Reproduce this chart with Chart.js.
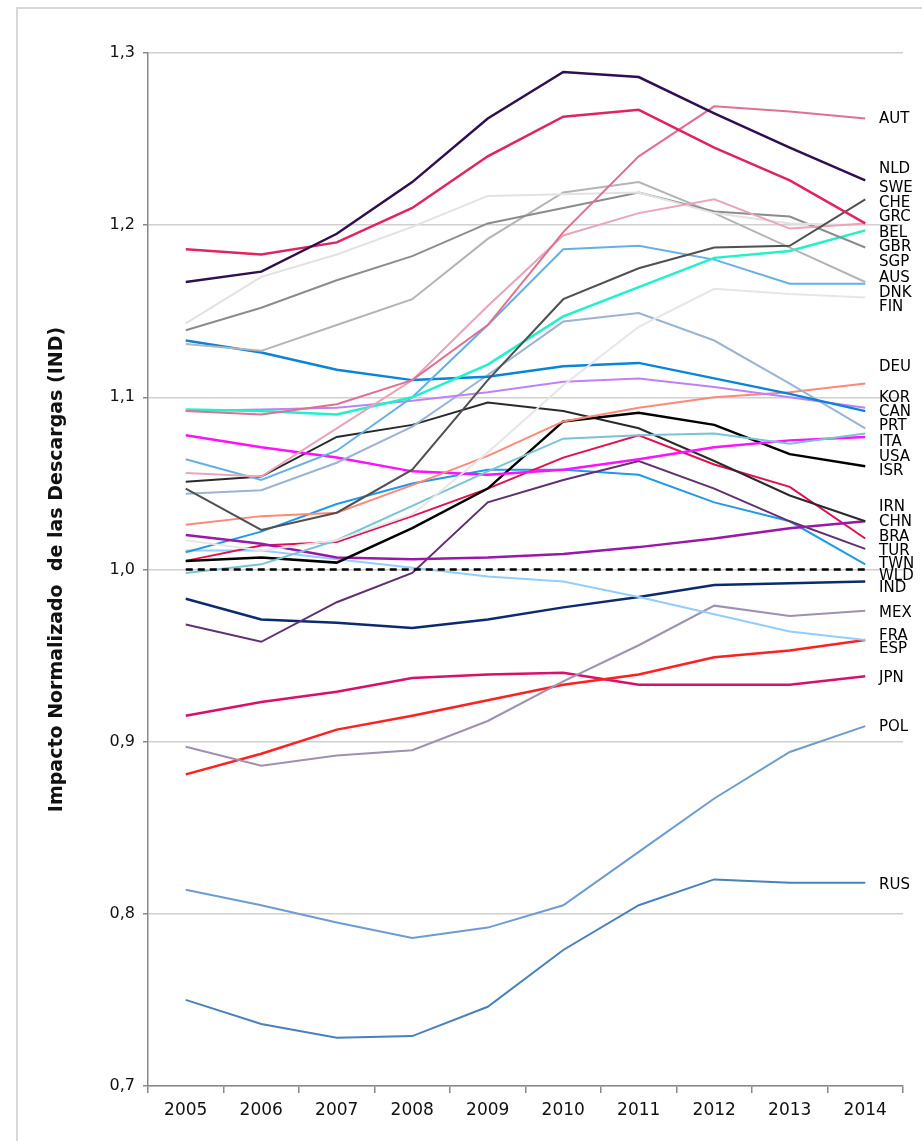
<!DOCTYPE html>
<html>
<head>
<meta charset="utf-8">
<script src="https://cdn.jsdelivr.net/npm/chart.js@4.4.1/dist/chart.umd.min.js"></script>
<style>
  html, body { margin: 0; padding: 0; background: #fff; }
  canvas { display: block; }
</style>
</head>
<body>
<canvas id="ind" width="922" height="1141"></canvas>
<script>
// years on the x axis
const years = ['2005', '2006', '2007', '2008', '2009', '2010', '2011', '2012', '2013', '2014'];

// y axis ticks
const yTicks = [0.7, 0.8, 0.9, 1.0, 1.1, 1.2, 1.3];

// one array per country
const NLD = [1.167, 1.173, 1.195, 1.225, 1.262, 1.289, 1.286, 1.265, 1.245, 1.226];
const BEL = [1.186, 1.183, 1.190, 1.210, 1.240, 1.263, 1.267, 1.245, 1.226, 1.201];
const SWE = [1.143, 1.170, 1.183, 1.199, 1.217, 1.218, 1.219, 1.207, 1.201, 1.200];
const GBR = [1.139, 1.152, 1.168, 1.182, 1.201, 1.210, 1.219, 1.208, 1.205, 1.187];
const AUS = [1.131, 1.127, 1.142, 1.157, 1.192, 1.219, 1.225, 1.207, 1.187, 1.167];
const DEU = [1.133, 1.126, 1.116, 1.110, 1.112, 1.118, 1.120, 1.111, 1.102, 1.092];
const SGP = [1.093, 1.092, 1.090, 1.100, 1.119, 1.147, 1.164, 1.181, 1.185, 1.197];
const CAN = [1.092, 1.093, 1.094, 1.098, 1.103, 1.109, 1.111, 1.106, 1.100, 1.094];
const AUT = [1.092, 1.090, 1.096, 1.110, 1.142, 1.196, 1.240, 1.269, 1.266, 1.262];
const GRC = [1.056, 1.054, 1.082, 1.110, 1.153, 1.194, 1.207, 1.215, 1.198, 1.201];
const DNK = [1.064, 1.052, 1.069, 1.100, 1.142, 1.186, 1.188, 1.180, 1.166, 1.166];
const PRT = [1.044, 1.046, 1.062, 1.083, 1.113, 1.144, 1.149, 1.133, 1.108, 1.082];
const CHE = [1.047, 1.023, 1.033, 1.058, 1.110, 1.157, 1.175, 1.187, 1.188, 1.215];
const IRN = [1.051, 1.054, 1.077, 1.084, 1.097, 1.092, 1.082, 1.063, 1.043, 1.028];
const ISR = [1.005, 1.007, 1.004, 1.024, 1.047, 1.086, 1.091, 1.084, 1.067, 1.060];
const USA = [1.078, 1.071, 1.065, 1.057, 1.055, 1.058, 1.064, 1.071, 1.075, 1.077];
const KOR = [1.026, 1.031, 1.033, 1.049, 1.066, 1.086, 1.094, 1.100, 1.103, 1.108];
const ITA = [0.998, 1.003, 1.017, 1.037, 1.057, 1.076, 1.078, 1.079, 1.073, 1.079];
const FIN = [1.017, 1.011, 1.017, 1.032, 1.068, 1.107, 1.141, 1.163, 1.160, 1.158];
const TWN = [1.010, 1.022, 1.038, 1.050, 1.058, 1.058, 1.055, 1.039, 1.028, 1.003];
const BRA = [1.005, 1.014, 1.016, 1.031, 1.047, 1.065, 1.078, 1.061, 1.048, 1.018];
const TUR = [0.968, 0.958, 0.981, 0.998, 1.039, 1.052, 1.063, 1.047, 1.028, 1.012];
const CHN = [1.020, 1.015, 1.007, 1.006, 1.007, 1.009, 1.013, 1.018, 1.024, 1.028];
const FRA = [1.011, 1.011, 1.006, 1.001, 0.996, 0.993, 0.984, 0.974, 0.964, 0.959];
const WLD = [1.000, 1.000, 1.000, 1.000, 1.000, 1.000, 1.000, 1.000, 1.000, 1.000];
const IND = [0.983, 0.971, 0.969, 0.966, 0.971, 0.978, 0.984, 0.991, 0.992, 0.993];
const MEX = [0.897, 0.886, 0.892, 0.895, 0.912, 0.935, 0.956, 0.979, 0.973, 0.976];
const ESP = [0.881, 0.893, 0.907, 0.915, 0.924, 0.933, 0.939, 0.949, 0.953, 0.959];
const JPN = [0.915, 0.923, 0.929, 0.937, 0.939, 0.940, 0.933, 0.933, 0.933, 0.938];
const POL = [0.814, 0.805, 0.795, 0.786, 0.792, 0.805, 0.836, 0.867, 0.894, 0.909];
const RUS = [0.750, 0.736, 0.728, 0.729, 0.746, 0.779, 0.805, 0.820, 0.818, 0.818];

// names at the right edge and the value each one sits at
const labelNames = ['AUT', 'NLD', 'SWE', 'CHE', 'GRC', 'BEL', 'GBR', 'SGP', 'AUS', 'DNK', 'FIN',
  'DEU', 'KOR', 'CAN', 'PRT', 'ITA', 'USA', 'ISR', 'IRN', 'CHN', 'BRA', 'TUR', 'TWN', 'WLD',
  'IND', 'MEX', 'FRA', 'ESP', 'JPN', 'POL', 'RUS'];
const labelValues = [1.262, 1.233, 1.222, 1.2135, 1.205, 1.196, 1.188, 1.179, 1.170, 1.161, 1.153,
  1.118, 1.100, 1.092, 1.084, 1.0747, 1.066, 1.058, 1.037, 1.028, 1.0195, 1.011, 1.004, 0.997,
  0.990, 0.975, 0.962, 0.9545, 0.9376, 0.909, 0.817];

function line(label, data, color, width, dash) {
  return {
    label: label,
    data: data,
    borderColor: color,
    backgroundColor: color,
    borderWidth: width,
    borderDash: dash || [],
    pointRadius: 0,
    fill: false,
    tension: 0
  };
}

// the name labels at the right, placed through the y scale
const sideLabels = {
  id: 'sideLabels',
  afterDatasetsDraw(chart) {
    const c = chart.ctx;
    const y = chart.scales.y;
    c.save();
    c.font = '15px "DejaVu Sans"';
    c.fillStyle = '#000';
    c.textAlign = 'left';
    c.textBaseline = 'middle';
    labelNames.forEach((n, i) => {
      c.fillText(n, chart.chartArea.right - 24, y.getPixelForValue(labelValues[i]) + 1);
    });
    c.restore();
  }
};

// thin grey frame round the picture, top and left
const frame = {
  id: 'frame',
  beforeDraw(chart) {
    const c = chart.ctx;
    c.save();
    c.fillStyle = '#fff';
    c.fillRect(0, 0, chart.width, chart.height);
    c.strokeStyle = '#d8d8d8';
    c.lineWidth = 2;
    c.beginPath();
    c.moveTo(17, chart.height);
    c.lineTo(17, 8);
    c.lineTo(chart.width, 8);
    c.stroke();
    c.restore();
  }
};

new Chart(document.getElementById('ind').getContext('2d'), {
  type: 'line',
  data: {
    labels: years,
    datasets: [
      line('WLD', WLD, '#000000', 2.5, [7, 5]),
      line('NLD', NLD, '#2e0f4f', 2.5),
      line('BEL', BEL, '#e0245e', 2.5),
      line('AUT', AUT, '#e07090', 2),
      line('CHE', CHE, '#505050', 2),
      line('GRC', GRC, '#eaa4b8', 2),
      line('SWE', SWE, '#e2e2e2', 2),
      line('GBR', GBR, '#8c8c8c', 2),
      line('AUS', AUS, '#b4b4b4', 2),
      line('SGP', SGP, '#1ef2c8', 2.5),
      line('DNK', DNK, '#64b0e6', 2),
      line('FIN', FIN, '#e6e6e6', 2),
      line('DEU', DEU, '#0a84d8', 2.5),
      line('CAN', CAN, '#c080f8', 2),
      line('PRT', PRT, '#9ab4d2', 2),
      line('KOR', KOR, '#ff8878', 2),
      line('ITA', ITA, '#78c4d6', 2),
      line('USA', USA, '#ff10ff', 2.5),
      line('ISR', ISR, '#000000', 2.5),
      line('IRN', IRN, '#2a2a2a', 2),
      line('CHN', CHN, '#9a18a8', 2.5),
      line('BRA', BRA, '#e0104e', 2),
      line('TUR', TUR, '#603070', 2),
      line('TWN', TWN, '#1e9ae6', 2),
      line('FRA', FRA, '#94ccfa', 2),
      line('IND', IND, '#0c2a6e', 2.5),
      line('MEX', MEX, '#a090b0', 2),
      line('ESP', ESP, '#ff2020', 2.5),
      line('JPN', JPN, '#d8106a', 2.5),
      line('POL', POL, '#6c9cd0', 2),
      line('RUS', RUS, '#4a80bc', 2)
    ]
  },
  options: {
    responsive: false,
    animation: false,
    devicePixelRatio: 1,
    layout: { padding: { left: 20, top: 53, right: 19, bottom: 0 } },
    plugins: {
      legend: { display: false },
      tooltip: { enabled: false }
    },
    scales: {
      x: {
        offset: true,
        grid: { offset: true, drawOnChartArea: false, tickLength: 7, tickColor: '#888', lineWidth: 1.5 },
        border: { color: '#888', width: 1.5 },
        ticks: { color: '#111', padding: 7, font: { family: 'DejaVu Sans', size: 17 } },
        afterFit(scale) { scale.height = 55; }
      },
      y: {
        min: 0.7,
        max: 1.3,
        afterBuildTicks(scale) { scale.ticks = yTicks.map(v => ({ value: v })); },
        grid: { color: '#d0d0d0', lineWidth: 1.5, tickLength: 5, tickColor: '#888' },
        border: { color: '#888', width: 1.5 },
        ticks: {
          color: '#111',
          padding: 8,
          font: { family: 'DejaVu Sans', size: 16 },
          callback: v => v.toFixed(1).replace('.', ',')
        },
        title: {
          display: true,
          text: 'Impacto Normalizado  de las Descargas (IND)',
          color: '#111',
          font: { family: 'DejaVu Sans', size: 19, weight: 'bold' },
          padding: { top: 26, bottom: 0 }
        },
        afterFit(scale) { scale.width = 128; }
      }
    }
  },
  plugins: [frame, sideLabels]
});
</script>
</body>
</html>
